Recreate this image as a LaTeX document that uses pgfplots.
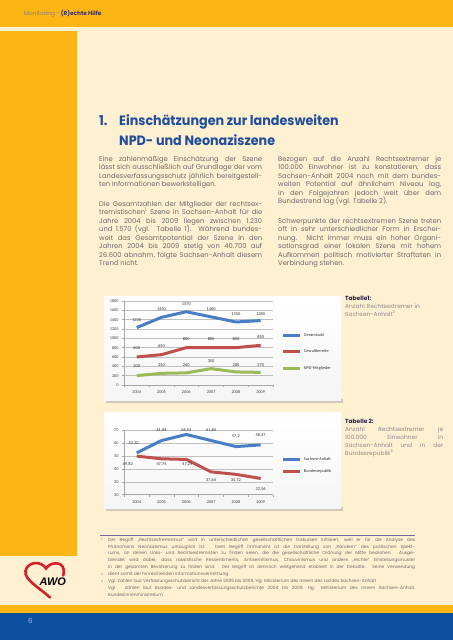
\documentclass[border=0pt]{standalone}
\usepackage{pgfplots}
\pgfplotsset{compat=1.18}
\usepackage{fontspec}
\setmainfont{Poppins}
\newfontfamily\chartfont{Carlito}
\newfontfamily\logofont{Liberation Sans}
\definecolor{hdrorange}{HTML}{FBB616}
\definecolor{cream}{HTML}{FFF0D2}
\definecolor{pageblue}{HTML}{0D50A0}
\definecolor{titleblue}{HTML}{1F4E9E}
\definecolor{bodygray}{HTML}{6A6A6A}
\definecolor{lightgray}{HTML}{8C8C8C}
\definecolor{navy}{HTML}{3A2F6A}
\definecolor{cblue}{HTML}{4A7EC4}
\definecolor{cred}{HTML}{C0504D}
\definecolor{cgreen}{HTML}{9BBB59}
\definecolor{awored}{HTML}{D3202A}
\definecolor{rulecol}{HTML}{6C6C98}
\pgfplotsset{
  pagechart/.style={
    scale only axis, clip=false,
    xmin=-0.5, xmax=5.5,
    xtick={0,1,2,3,4,5},
    xticklabels={2004,2005,2006,2007,2008,2009},
    minor xtick={-0.5,0.5,...,5.5},
    axis lines=left, axis line style={-, draw=gray!70, line width=0.5bp},
    ymajorgrids, major grid style={draw=gray!50, line width=0.4bp},
    tick align=outside, major tick length=0pt, minor tick length=2.2bp,
    tick style={draw=gray!70, line width=0.5bp},
    xticklabel style={yshift=-2.2bp},
    yticklabel style={xshift=-2.2bp},
    tick label style={font=\chartfont\fontsize{4.3}{5}\selectfont, text=black!75},
    /pgf/number format/assume math mode=true,
    /pgf/number format/set thousands separator={},
    legend cell align=left,
    legend image code/.code={\draw[#1, line cap=butt] (0bp,0bp) -- (17bp,0bp);},
  },
  dlab/.style={
    nodes near coords, point meta=explicit symbolic,
    visualization depends on={\thisrow{dy}\as\dy},
    visualization depends on={\thisrow{dx}\as\dx},
    every node near coord/.append style={anchor=center, yshift=\dy pt, xshift=\dx pt,
      font=\chartfont\fontsize{4.4}{5}\selectfont, text=black!80, inner sep=0pt},
  },
}
\begin{document}
\begin{tikzpicture}[x=1bp,y=1bp]
\path[use as bounding box] (0,0) rectangle (453,640);
% backgrounds
\fill[cream] (0,0) rectangle (453,640);
\fill[hdrorange] (0,612.5) rectangle (453,640);
\fill[hdrorange] (0,84) rectangle (77,609);
\fill[hdrorange] (0,27) rectangle (453,35);
\fill[pageblue] (0,0) rectangle (453,27);
% header
\node[anchor=west, inner sep=0pt, font=\fontsize{5.8}{7}\selectfont] at (24,626)
  {\textcolor{gray!80!brown}{Monitoring\,–\,}\textcolor{navy}{\bfseries (R)echte Hilfe}};
% page number
\node[anchor=west, inner sep=0pt, font=\fontsize{7}{8}\selectfont, text=blue!30!white] at (28,19) {6};
% logo
\draw[awored, line width=2.6bp, line cap=round]
  (50,42.5) .. controls (40,52) and (24,60) .. (25.5,69)
  .. controls (27,78) and (41,80) .. (46,71.5)
  .. controls (50,78) and (62,79) .. (63.5,71)
  .. controls (64,68) and (63.8,66.5) .. (63.2,64.5);
\node[anchor=base west, inner sep=0pt, font=\logofont\bfseries\itshape\fontsize{11}{12}\selectfont] at (39.5,54) {AWO};
% title
\begin{scope}[every node/.style={anchor=base west, inner sep=0pt, text=titleblue, font=\bfseries\fontsize{13.6}{16}\selectfont}]
\node at (99,514) {\scalebox{0.94}[1]{1.}};
\node at (119,514) {\scalebox{0.94}[1]{Einschätzungen zur landesweiten}};
\node at (119,494) {\scalebox{0.94}[1]{NPD- und Neonaziszene}};
\end{scope}
% body text
\begin{scope}[every node/.style={anchor=north west, inner sep=0pt, text width=163bp, align=justify, text=bodygray, font=\fontsize{6.8}{8.5}\selectfont}]
\node at (99,484) {Eine zahlenmäßige Einschätzung der Szene\linebreak lässt sich ausschließlich auf Grundlage der vom\linebreak Landesverfassungsschutz jährlich bereitgestell-\linebreak ten Informationen bewerkstelligen.};
\node at (99,439) {Die Gesamtzahlen der Mitglieder der rechtsex-\linebreak tremistischen\textsuperscript{1} Szene in Sachsen-Anhalt für die\linebreak Jahre 2004 bis 2009 liegen zwischen 1.230\linebreak und 1.570 (vgl. Tabelle 1). Während bundes-\linebreak weit das Gesamtpotential der Szene in den\linebreak Jahren 2004 bis 2009 stetig von 40.700 auf\linebreak 26.600 abnahm, folgte Sachsen-Anhalt diesem\linebreak Trend nicht.};
\node at (278,484) {Bezogen auf die Anzahl Rechtsextremer je\linebreak 100.000 Einwohner ist zu konstatieren, dass\linebreak Sachsen-Anhalt 2004 noch mit dem bundes-\linebreak weiten Potential auf ähnlichem Niveau lag,\linebreak in den Folgejahren jedoch weit über dem\linebreak Bundestrend lag (vgl. Tabelle 2).};
\node at (278,422) {Schwerpunkte der rechtsextremen Szene treten\linebreak oft in sehr unterschiedlicher Form in Erschei-\linebreak nung. Nicht immer muss ein hoher Organi-\linebreak sationsgrad einer lokalen Szene mit hohem\linebreak Aufkommen politisch motivierter Straftaten in\linebreak Verbindung stehen.};
\end{scope}
% table captions
\node[anchor=north west, inner sep=0pt, text width=98bp, align=left, font=\fontsize{5.9}{8}\selectfont, text=lightgray] at (345,344)
  {\textcolor{navy!70!black}{\bfseries Tabelle1:}\\Anzahl Rechtsextremer in\\Sachsen-Anhalt\textsuperscript{2}};
\node[anchor=north west, inner sep=0pt, text width=98bp, align=justify, font=\fontsize{5.9}{8}\selectfont, text=lightgray] at (345,221)
  {\textcolor{navy!70!black}{\bfseries Tabelle 2:}\\Anzahl Rechtsextremer je\linebreak 100.000 Einwohner in\linebreak Sachsen-Anhalt und in der\linebreak Bundesrepublik\textsuperscript{3}};
% chart panels
\fill[gray!60, opacity=0.6] (106,237) rectangle (343,241);
\shade[top color=white, bottom color=gray!8] (104,239) rectangle (341,343);
\fill[gray!60, opacity=0.6] (106,129) rectangle (343,133);
\shade[top color=white, bottom color=gray!8] (104,131) rectangle (341,227);
% chart 1
\begin{axis}[pagechart,
  at={(124.3bp,255bp)}, anchor=south west, width=148.8bp, height=84bp,
  ymin=0, ymax=1800, ytick={0,200,...,1800}, minor ytick={0,200,...,1800},
  legend style={at={(1.058,0.393)}, anchor=west, draw=none, fill=none, inner sep=0pt,
    row sep=8.2bp, font=\chartfont\fontsize{4.3}{5}\selectfont, text=black!80},
]
\addplot[cblue, line width=3bp, line join=round, dlab] table[meta=lab] {
x y lab dy dx
0 1230 1230 8 0
1 1450 1450 8 0
2 1570 1570 8 0
3 1460 1460 8 0
4 1350 1350 8 0
5 1380 1380 7 0
};
\addlegendentry{Gesamtzahl}
\addplot[cred, line width=3bp, line join=round, dlab] table[meta=lab] {
x y lab dy dx
0 600 600 8.7 0
1 650 650 8.7 0
2 800 800 8.4 0
3 800 800 8.4 0
4 800 800 8.4 0
5 850 850 8.6 0
};
\addlegendentry{Gewaltbereite}
\addplot[cgreen, line width=3bp, line join=round, dlab] table[meta=lab] {
x y lab dy dx
0 200 200 9.5 0
1 250 250 8.7 0
2 260 260 8 0
3 350 350 8 0
4 280 280 7 0
5 270 270 7.7 0
};
\addlegendentry{NPD-Mitglieder}
\end{axis}
% chart 2
\begin{axis}[pagechart,
  at={(124.3bp,145.3bp)}, anchor=south west, width=148.8bp, height=64.7bp,
  ymin=20, ymax=70, ytick={20,30,...,70}, minor ytick={20,30,...,70},
  legend style={at={(1.058,0.444)}, anchor=west, draw=none, fill=none, inner sep=0pt,
    row sep=3.5bp, font=\chartfont\fontsize{4.3}{5}\selectfont, text=black!80},
]
\addplot[cblue, line width=3bp, line join=round, dlab] table[meta=lab] {
x y lab dy dx
0 52.32 52,32 10 -3
1 61.84 61,84 10 0
2 66.53 66,53 4.5 0
3 61.84 61,84 10 0
4 57.2 57,2 10 0
5 58.47 58,47 10 0
};
\addlegendentry{Sachsen-Anhalt}
\addplot[cred, line width=3bp, line join=round, dlab] table[meta=lab] {
x y lab dy dx
0 49.82 49,82 -8 -9
1 47.74 47,74 -5.5 0
2 47.25 47,25 -5 1
3 37.64 37,64 -8 0
4 35.72 35,72 -6.4 0
5 32.56 32,56 -10.6 0
};
\addlegendentry{Bundesrepublik}
\end{axis}
% footnotes
\draw[rulecol, line width=0.7bp] (100,105) -- (415,105);
\begin{scope}[every node/.style={inner sep=0pt, text=bodygray}]
\node[anchor=north west, text width=307bp, align=justify, font=\fontsize{4.4}{7}\selectfont] at (108,102.5)
 {Der Begriff „Rechtsextremismus“ wird in unterschiedlichen gesellschaftlichen Diskursen kritisiert, weil er für die Analyse des\linebreak Phänomens Neonazismus untauglich ist. Dem Begriff immanent ist die Darstellung von „Rändern“ des politischen Spekt-\linebreak rums, an denen Links- und Rechtsextremisten zu finden seien, die die gesellschaftliche Ordnung der Mitte bedrohen. Ausge-\linebreak blendet wird dabei, dass rassistische Ressentiments, Antisemitismus, Chauvinismus und andere „rechte“ Einstellungsmuster\linebreak in der gesamten Bevölkerung zu finden sind. Der Begriff ist dennoch weitgehend etabliert in der Debatte. Seine Verwendung\linebreak dient somit der hinreichenden Informationsvermittlung.\\
 Vgl. Zahlen laut Verfassungsschutzbericht der Jahre 2005 bis 2009, Hg: Ministerium des Innern des Landes Sachsen-Anhalt\\
 Vgl. Zahlen laut Bundes- und Landesverfassungsschutzberichte 2004 bis 2009, Hg: Ministerium des Innern Sachsen-Anhalt,\linebreak Bundesinnenministerium};
\node[anchor=north west, font=\fontsize{3}{4}\selectfont] at (101,102) {1};
\node[anchor=north west, font=\fontsize{3}{4}\selectfont] at (101,67) {2};
\node[anchor=north west, font=\fontsize{3}{4}\selectfont] at (101,60) {3};
\end{scope}
\end{tikzpicture}
\end{document}
